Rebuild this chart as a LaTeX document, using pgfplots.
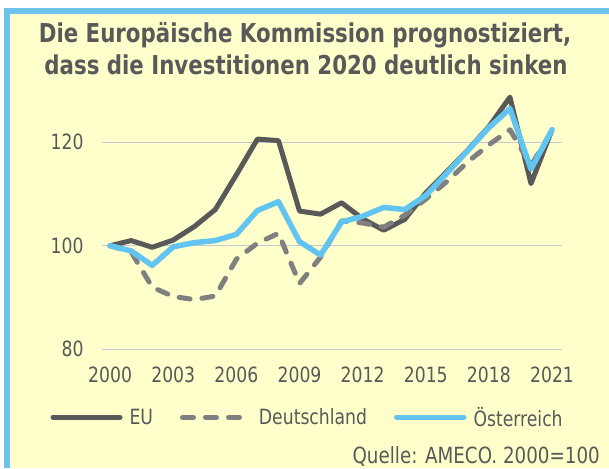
\documentclass[border=0pt]{standalone}
\usepackage{fontspec}
\setmainfont{DejaVu Sans}[FakeStretch=0.82]
\usepackage{pgfplots}
\usepackage{pgfplotstable}
\pgfplotsset{compat=1.18}
\definecolor{txt}{HTML}{595959}
\definecolor{euc}{HTML}{595959}
\definecolor{dec}{HTML}{808080}
\definecolor{atc}{HTML}{62C5F1}
\definecolor{frameblue}{HTML}{6CC4EE}
\definecolor{bgyellow}{HTML}{FFFFCC}
\definecolor{gridc}{HTML}{C6C8D2}
\pgfplotstableread{
year eu de at
2000 100.0 100.0 100.0
2001 101.0 98.8 99.0
2002 99.7 92.0 96.2
2003 101.1 90.2 99.8
2004 103.7 89.6 100.6
2005 107.0 90.3 101.0
2006 113.7 97.4 102.2
2007 120.6 100.5 106.8
2008 120.3 102.4 108.5
2009 106.7 92.7 100.8
2010 106.1 97.8 98.2
2011 108.3 104.8 104.6
2012 105.2 104.4 105.7
2013 103.0 103.6 107.4
2014 105.1 105.9 107.0
2015 110.2 109.0 109.7
2016 114.3 112.4 114.0
2017 118.5 116.2 118.4
2018 123.0 119.5 122.8
2019 128.7 122.4 126.5
2020 112.0 115.5 114.8
2021 122.4 122.2 122.4
}\datatable
\begin{document}
\begin{tikzpicture}
\useasboundingbox (0pt,0pt) rectangle (609pt,-468pt);
\fill[white] (0pt,0pt) rectangle (609pt,-468pt);
\fill[frameblue] (4pt,-8pt) rectangle (609pt,-468pt);
\fill[bgyellow] (10pt,-14pt) rectangle (609pt,-468pt);
\node[anchor=base, inner sep=0pt, font=\fontsize{26}{30}\selectfont\bfseries, text=txt] at (305pt,-42.4pt) {Die Europäische Kommission prognostiziert,};
\node[anchor=base, inner sep=0pt, font=\fontsize{26}{30}\selectfont\bfseries, text=txt] at (306pt,-74.6pt) {dass die Investitionen 2020 deutlich sinken};
\begin{axis}[
  at={(101.7pt,-349.3pt)}, anchor=south west,
  scale only axis, width=460pt, height=258.9pt,
  xmin=1999.6, xmax=2021.46, ymin=80, ymax=130,
  axis line style={draw=none},
  major tick length=0pt,
  xtick={2000,2003,...,2021}, ytick={80,100,120},
  ymajorgrids, grid style={gridc, line width=1.3pt},
  /pgf/number format/1000 sep={},
  /pgf/number format/assume math mode=true,
  tick label style={font=\fontsize{21}{21}\selectfont, text=txt, inner sep=0pt},
  xticklabel style={anchor=north, yshift=-17.7pt},
  yticklabel style={anchor=east, xshift=-18pt},
  legend columns=3,
  legend image code/.code={\draw[#1, line cap=round] (0pt,0pt) -- (67pt,0pt);},
  legend style={at={(-0.1113,-0.2626)}, anchor=west, draw=none, fill=none,
    inner sep=0pt, outer sep=0pt, font=\fontsize{21}{21}\selectfont, text=txt,
    nodes={inner sep=0pt},
    /tikz/every odd column/.append style={column sep=7pt},
    /tikz/every even column/.append style={column sep=27pt}},
]
\addplot[euc, line width=5pt, line join=round, line cap=round] table[x=year, y=eu] {\datatable};
\addlegendentry{EU}
\addplot[dec, line width=5pt, line join=round, line cap=round, dash pattern=on 11pt off 12pt] table[x=year, y=de] {\datatable};
\addlegendentry{Deutschland}
\addplot[atc, line width=5.5pt, line join=round, line cap=round] table[x=year, y=at] {\datatable};
\addlegendentry{Österreich}
\end{axis}
\node[anchor=east, inner sep=0pt, font=\fontsize{22.3}{22}\selectfont, text=txt] at (600pt,-456.7pt) {Quelle: AMECO. 2000=100};
\end{tikzpicture}
\end{document}
